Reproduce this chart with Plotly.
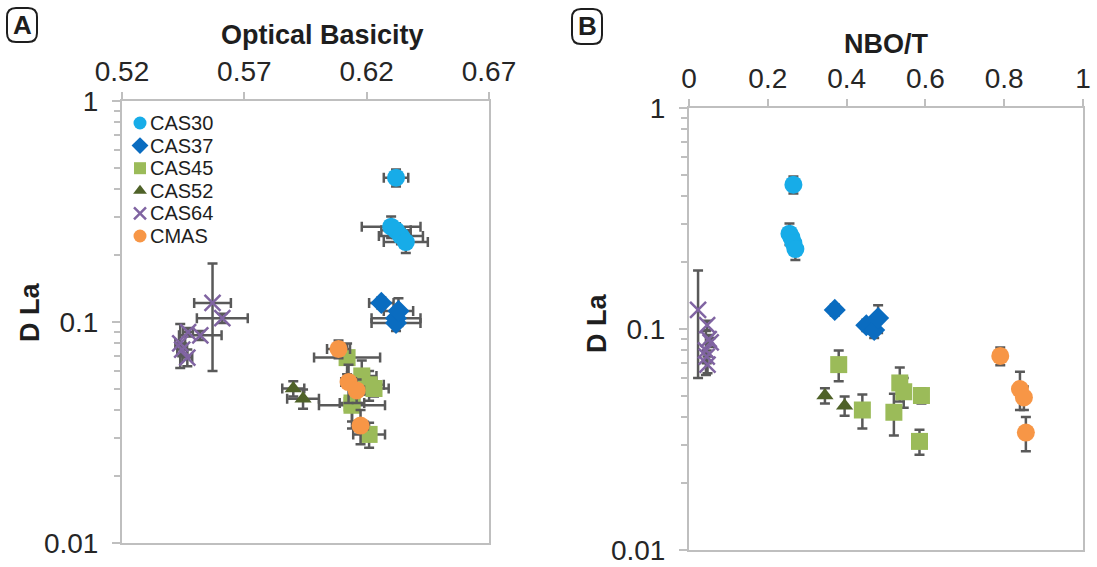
import plotly.graph_objects as go

# ---- data: D(La) vs optical basicity (A) and NBO/T (B) ----
series = ["CAS30", "CAS37", "CAS45", "CAS52", "CAS64", "CMAS"]

cas30_d = [0.45, 0.27, 0.26, 0.245, 0.23]
cas30_d_err = [0.04, 0.03, 0.02, 0.02, 0.025]
cas30_ob = [0.632, 0.630, 0.632, 0.634, 0.636]
cas30_ob_err = [0.005, 0.012, 0.006, 0.009, 0.009]
cas30_nbo = [0.265, 0.255, 0.26, 0.265, 0.27]

cas37_d = [0.122, 0.104, 0.099, 0.112]
cas37_d_err = [0.007, 0.006, 0.008, 0.016]
cas37_ob = [0.626, 0.632, 0.632, 0.633]
cas37_ob_err = [0.005, 0.010, 0.010, 0.006]
cas37_nbo = [0.37, 0.45, 0.47, 0.48]

cas45_d = [0.069, 0.043, 0.057, 0.052, 0.042, 0.050, 0.031]
cas45_d_err = [0.011, 0.0075, 0.010, 0.008, 0.009, 0.004, 0.004]
cas45_ob = [0.612, 0.614, 0.618, 0.621, 0.614, 0.623, 0.621]
cas45_ob_err = [0.0135, 0.005, 0.006, 0.006, 0.0135, 0.006, 0.0065]
cas45_nbo = [0.38, 0.44, 0.535, 0.545, 0.52, 0.59, 0.585]

cas52_d = [0.050, 0.045]
cas52_d_err = [0.004, 0.0045]
cas52_ob = [0.590, 0.594]
cas52_ob_err = [0.0045, 0.0065]
cas52_nbo = [0.345, 0.395]

cas64_d = [0.122, 0.104, 0.090, 0.087, 0.080, 0.075, 0.069]
cas64_d_err = [0.062, 0.005, 0.004, 0.004, 0.018, 0.005, 0.006]
cas64_ob = [0.557, 0.561, 0.547, 0.552, 0.5438, 0.5446, 0.5467]
cas64_ob_err = [0.0075, 0.0104, 0.002, 0.0087, 0.002, 0.002, 0.002]
cas64_nbo = [0.023, 0.046, 0.050, 0.055, 0.043, 0.045, 0.047]

cmas_d = [0.0755, 0.0535, 0.049, 0.034]
cmas_d_err = [0.007, 0.0105, 0.006, 0.006]
cmas_ob = [0.6085, 0.6126, 0.6159, 0.6175]
cmas_ob_err = [0.0047, 0.003, 0.003, 0.003]
cmas_nbo = [0.79, 0.84, 0.85, 0.855]

ob_ticks = [0.52, 0.57, 0.62, 0.67]
nbo_ticks = [0, 0.2, 0.4, 0.6, 0.8, 1]
d_ticks = [0.01, 0.1, 1]
d_minor = [m * 10 ** e for e in (-2, -1) for m in range(2, 10)]

# ---- styling ----
W, H = 1097, 567
FONT = "Liberation Sans, Arial, sans-serif"
ERR = "#595959"
AXIS = "#BFBFBF"
TEXT = "#1e1e1e"

styles = {
    "CAS30": dict(symbol="circle", size=18, legend=13, color="#17ACE8"),
    "CAS37": dict(symbol="diamond", size=17, legend=13, color="#0A6CC0"),
    "CAS45": dict(symbol="square", size=17, legend=12, color="#9BBB59"),
    "CAS52": dict(symbol="triangle-up", size=15, legend=12, color="#4F6228"),
    "CAS64": dict(symbol="x-thin", size=16, legend=12, color="#8064A2"),
    "CMAS": dict(symbol="circle", size=18, legend=13, color="#F79646"),
}

data = {
    "CAS30": (cas30_ob, cas30_ob_err, cas30_nbo, cas30_d, cas30_d_err),
    "CAS37": (cas37_ob, cas37_ob_err, cas37_nbo, cas37_d, cas37_d_err),
    "CAS45": (cas45_ob, cas45_ob_err, cas45_nbo, cas45_d, cas45_d_err),
    "CAS52": (cas52_ob, cas52_ob_err, cas52_nbo, cas52_d, cas52_d_err),
    "CAS64": (cas64_ob, cas64_ob_err, cas64_nbo, cas64_d, cas64_d_err),
    "CMAS": (cmas_ob, cmas_ob_err, cmas_nbo, cmas_d, cmas_d_err),
}


def marker_for(name, size):
    s = styles[name]
    if s["symbol"] == "x-thin":
        return dict(symbol="x-thin", size=size,
                    line=dict(width=2.5, color=s["color"]), color=s["color"])
    return dict(symbol=s["symbol"], size=size, color=s["color"],
                line=dict(width=0))


fig = go.Figure()

for name in series:
    ob, ob_err, nbo, d, d_err = data[name]
    size = styles[name]["size"]
    fig.add_trace(go.Scatter(
        x=ob, y=d, mode="markers", name=name,
        marker=marker_for(name, size),
        error_x=dict(type="data", array=ob_err, color=ERR, thickness=2.5, width=5),
        error_y=dict(type="data", array=d_err, color=ERR, thickness=2.5, width=5),
        xaxis="x", yaxis="y", showlegend=False,
    ))
    fig.add_trace(go.Scatter(
        x=nbo, y=d, mode="markers", name=name,
        marker=marker_for(name, size),
        error_y=dict(type="data", array=d_err, color=ERR, thickness=2.5, width=5),
        xaxis="x2", yaxis="y2", showlegend=False,
    ))

# legend key drawn on a pixel-scaled overlay axis
LEG_X, LEG_Y0, LEG_DY = 140, 123, 22.6
for i, name in enumerate(series):
    yy = LEG_Y0 + i * LEG_DY
    fig.add_trace(go.Scatter(
        x=[LEG_X], y=[yy], mode="markers", name=name,
        marker=marker_for(name, styles[name]["legend"]),
        xaxis="x3", yaxis="y3", showlegend=False, hoverinfo="skip",
    ))
    fig.add_annotation(text=name, xref="paper", yref="paper",
                       x=(LEG_X + 8) / W, y=1 - yy / H, xanchor="left",
                       yanchor="middle", showarrow=False,
                       font=dict(family=FONT, size=20, color=TEXT))


def dom_x(a, b):
    return [a / W, b / W]


def dom_y(top, bottom):
    return [1 - bottom / H, 1 - top / H]


tick_font = dict(family=FONT, size=28, color="#262626")

common_x = dict(side="top", showline=True, linecolor=AXIS, linewidth=2,
                mirror=True, ticks="outside", ticklen=7, tickcolor=AXIS,
                tickwidth=2, showgrid=False, zeroline=False, automargin=False,
                tickfont=tick_font, ticklabelstandoff=0)
common_y = dict(type="log", range=[-2, 0], showline=True, linecolor=AXIS,
                linewidth=2, mirror=True, ticks="outside", ticklen=8,
                tickcolor=AXIS, tickwidth=2, showgrid=False, zeroline=False,
                automargin=False,
                tickvals=d_ticks, ticktext=["0.01", "0.1", "1"],
                tickfont=tick_font, ticklabelstandoff=8,
                minor=dict(tickvals=d_minor, ticks="outside", ticklen=6,
                           tickcolor=AXIS, tickwidth=2, showgrid=False))

fig.update_layout(
    width=W, height=H,
    margin=dict(l=0, r=0, t=0, b=0),
    paper_bgcolor="white", plot_bgcolor="rgba(0,0,0,0)",
    font=dict(family=FONT, color=TEXT),
    xaxis=dict(domain=dom_x(122, 489), anchor="y", range=[0.52, 0.67],
               tickvals=ob_ticks, ticktext=[f"{v:.2f}" for v in ob_ticks],
               **common_x),
    yaxis=dict(domain=dom_y(101, 543), anchor="x", **common_y),
    xaxis2=dict(domain=dom_x(689, 1083), anchor="y2", range=[0, 1],
                tickvals=nbo_ticks, ticktext=[f"{v:g}" for v in nbo_ticks],
                **common_x),
    yaxis2=dict(domain=dom_y(108, 550), anchor="x2", **common_y),
    xaxis3=dict(domain=[0, 1], anchor="y3", range=[0, W], visible=False,
                fixedrange=True),
    yaxis3=dict(domain=[0, 1], anchor="x3", range=[H, 0], visible=False,
                fixedrange=True),
    showlegend=False,
)

# axis titles
title_font = dict(family=FONT, size=27, color=TEXT)
fig.add_annotation(text="<b>Optical Basicity</b>", xref="paper", yref="paper",
                   x=322 / W, y=1 - 35 / H, xanchor="center", yanchor="middle",
                   showarrow=False, font=title_font)
fig.add_annotation(text="<b>NBO/T</b>", xref="paper", yref="paper",
                   x=886 / W, y=1 - 44 / H, xanchor="center", yanchor="middle",
                   showarrow=False, font=title_font)
for xc, yc in ((30, 313), (597, 324)):
    fig.add_annotation(text="<b>D La</b>", xref="paper", yref="paper",
                       x=xc / W, y=1 - yc / H, xanchor="center",
                       yanchor="middle", showarrow=False,
                       textangle=-90, font=title_font)


# panel letters in rounded boxes
def rounded_box(x0, y0, x1, y1, r):
    px = lambda v: v / W
    py = lambda v: 1 - v / H
    return (f"M {px(x0 + r)},{py(y0)} L {px(x1 - r)},{py(y0)} "
            f"Q {px(x1)},{py(y0)} {px(x1)},{py(y0 + r)} "
            f"L {px(x1)},{py(y1 - r)} Q {px(x1)},{py(y1)} {px(x1 - r)},{py(y1)} "
            f"L {px(x0 + r)},{py(y1)} Q {px(x0)},{py(y1)} {px(x0)},{py(y1 - r)} "
            f"L {px(x0)},{py(y0 + r)} Q {px(x0)},{py(y0)} {px(x0 + r)},{py(y0)} Z")


for letter, (bx0, by0, bx1, by1) in (("A", (7, 8, 37, 42)), ("B", (572, 9, 602, 44))):
    fig.add_shape(type="path", xref="paper", yref="paper",
                  path=rounded_box(bx0, by0, bx1, by1, 9),
                  line=dict(color=TEXT, width=2))
    fig.add_annotation(text=f"<b>{letter}</b>", xref="paper", yref="paper",
                       x=(bx0 + bx1) / 2 / W, y=1 - (by0 + by1) / 2 / H,
                       xanchor="center", yanchor="middle",
                       showarrow=False,
                       font=dict(family=FONT, size=26, color=TEXT))

fig.write_html("out.html")
